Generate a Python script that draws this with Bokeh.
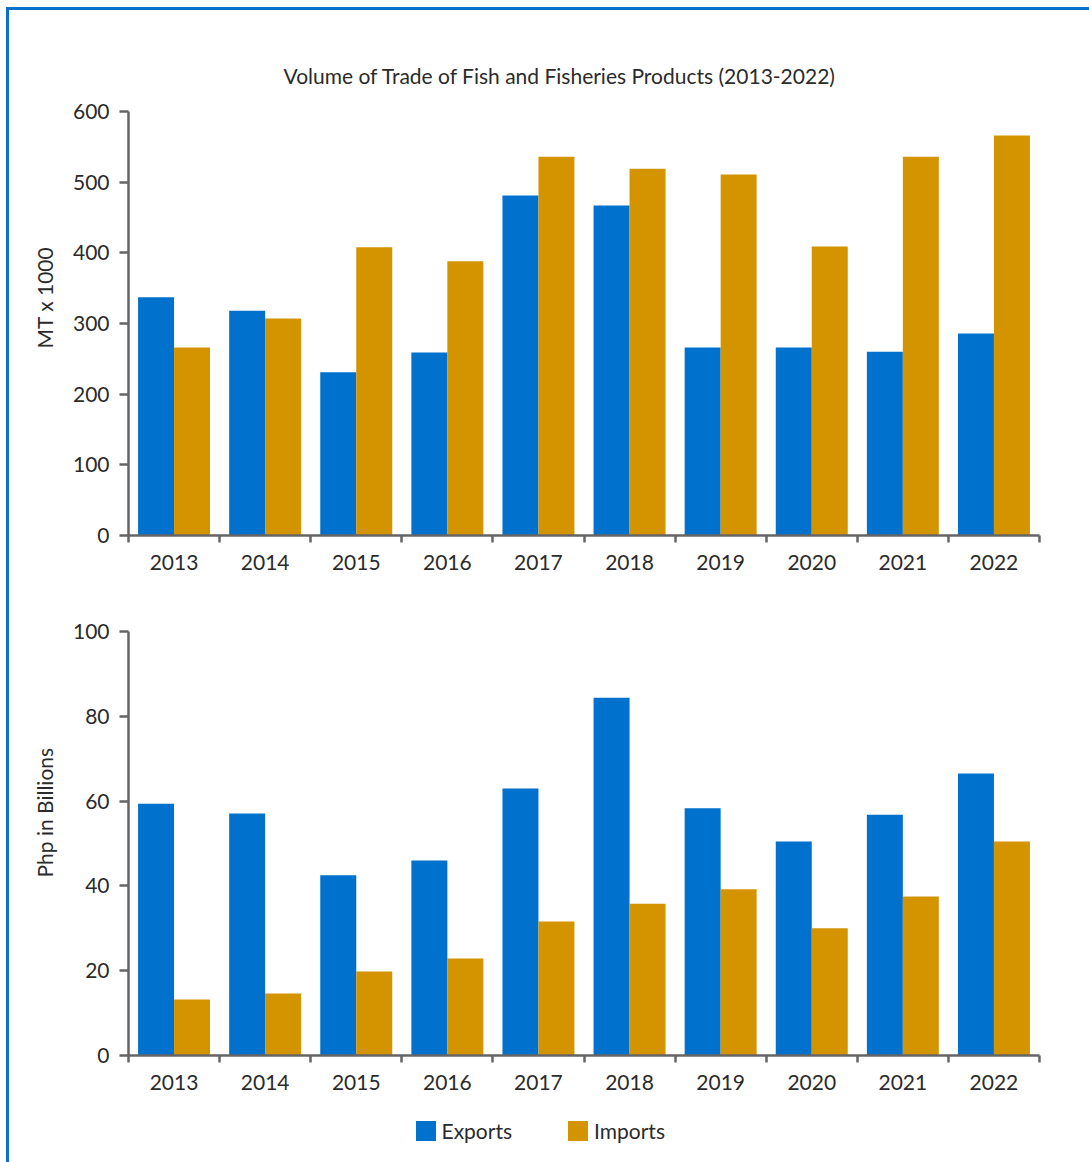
from bokeh.plotting import figure
from bokeh.layouts import column
from bokeh.models import (ColumnDataSource, Range1d, FixedTicker, SingleIntervalTicker,
                          Title, Legend, LegendItem)
from bokeh.transform import dodge
from bokeh.embed import file_html
from bokeh.resources import INLINE

# Trade of fish and fisheries products, 2013-2022
years = ["2013", "2014", "2015", "2016", "2017", "2018", "2019", "2020", "2021", "2022"]
volume_exports = [337, 318, 231, 259, 481, 467, 266, 266, 260, 286]   # MT x 1000
volume_imports = [266, 307, 408, 388, 536, 519, 511, 409, 536, 566]
value_exports = [59.4, 57.1, 42.5, 46.0, 63.0, 84.4, 58.3, 50.5, 56.8, 66.5]  # Php billions
value_imports = [13.2, 14.6, 19.8, 22.9, 31.6, 35.8, 39.2, 30.0, 37.5, 50.5]
series_names = ["Exports", "Imports"]

EXPORT_COLOR = "#0072CE"
IMPORT_COLOR = "#D39400"
AXIS_COLOR = "#656565"
TEXT_COLOR = "#2b2b2b"
FONT = "Lato"
BAR_W = 0.395


def make_chart(exports, imports, y_max, y_step, ylabel, label_offset, height, top, bottom):
    src = ColumnDataSource(dict(idx=list(range(len(years))), exp=exports, imp=imports))
    p = figure(width=1080, height=height, output_backend="svg", toolbar_location=None,
               x_range=Range1d(-0.5, len(years) - 0.5), y_range=Range1d(0, y_max),
               min_border_left=119, min_border_right=50,
               min_border_top=top, min_border_bottom=bottom)
    p.outline_line_color = None
    p.grid.visible = False
    p.background_fill_color = None
    p.border_fill_color = None

    p.vbar(x=dodge("idx", -BAR_W / 2, range=p.x_range), top="exp", width=BAR_W,
           source=src, fill_color=EXPORT_COLOR, line_color=None)
    p.vbar(x=dodge("idx", BAR_W / 2, range=p.x_range), top="imp", width=BAR_W,
           source=src, fill_color=IMPORT_COLOR, line_color=None)

    xa = p.xaxis[0]
    xa.ticker = FixedTicker(ticks=list(range(len(years))),
                            minor_ticks=[i - 0.5 for i in range(len(years) + 1)])
    xa.major_label_overrides = {i: y for i, y in enumerate(years)}
    xa.major_tick_line_color = None
    xa.major_tick_out = 7
    xa.major_tick_in = 0
    xa.minor_tick_line_color = AXIS_COLOR
    xa.minor_tick_line_width = 2.5
    xa.minor_tick_out = 7
    xa.minor_tick_in = 0
    xa.axis_line_color = AXIS_COLOR
    xa.axis_line_width = 2.5
    xa.major_label_standoff = 12

    ya = p.yaxis[0]
    ya.ticker = SingleIntervalTicker(interval=y_step)
    ya.minor_tick_line_color = None
    ya.major_tick_line_color = AXIS_COLOR
    ya.major_tick_line_width = 2.5
    ya.major_tick_out = 9
    ya.major_tick_in = 0
    ya.axis_line_color = AXIS_COLOR
    ya.axis_line_width = 2.5
    ya.major_label_standoff = 10

    for ax in (xa, ya):
        ax.major_label_text_font = FONT
        ax.major_label_text_font_size = "21px"
        ax.major_label_text_color = TEXT_COLOR

    p.add_layout(Title(text=ylabel, align="left", offset=label_offset, standoff=26,
                       text_font=FONT, text_font_size="21px", text_font_style="normal",
                       text_color=TEXT_COLOR), "left")
    return p


p1 = make_chart(volume_exports, volume_imports, 600, 100, "MT x 1000", 187,
                height=580, top=101, bottom=55)
p1.add_layout(Title(text="Volume of Trade of Fish and Fisheries Products (2013-2022)",
                    align="left", offset=155, standoff=47,
                    text_font=FONT, text_font_size="21px", text_font_style="normal",
                    text_color=TEXT_COLOR), "above")

p2 = make_chart(value_exports, value_imports, 100, 20, "Php in Billions", 178,
                height=515, top=41, bottom=50)

# Shared legend strip under the second chart
p3 = figure(width=1080, height=57, output_backend="svg", toolbar_location=None,
            x_range=Range1d(0, 1), y_range=Range1d(0, 1),
            x_axis_location=None, y_axis_location=None, min_border=0)
p3.outline_line_color = None
p3.grid.visible = False
p3.background_fill_color = None
p3.border_fill_color = None
swatch = ColumnDataSource(dict(x=[float("nan")], top=[float("nan")]))
sw_exp = p3.vbar(x="x", top="top", width=0.1, source=swatch,
                 fill_color=EXPORT_COLOR, line_color=None)
sw_imp = p3.vbar(x="x", top="top", width=0.1, source=swatch,
                 fill_color=IMPORT_COLOR, line_color=None)
legend = Legend(items=[LegendItem(label=series_names[0], renderers=[sw_exp]),
                       LegendItem(label=series_names[1], renderers=[sw_imp])],
                orientation="horizontal", location=(284.5, 19.5),
                glyph_width=25, glyph_height=25, label_standoff=4, spacing=53,
                padding=0, margin=0, border_line_color=None,
                background_fill_alpha=0,
                label_text_font=FONT, label_text_font_size="21px",
                label_text_color=TEXT_COLOR)
p3.add_layout(legend, "center")

layout = column(p1, p2, p3, spacing=0,
                styles={"margin-left": "6px", "margin-top": "7px",
                        "border-left": "3px solid #0A72CC",
                        "border-top": "3px solid #0A72CC"})

with open("out.html", "w") as f:
    f.write(file_html(layout, INLINE))
